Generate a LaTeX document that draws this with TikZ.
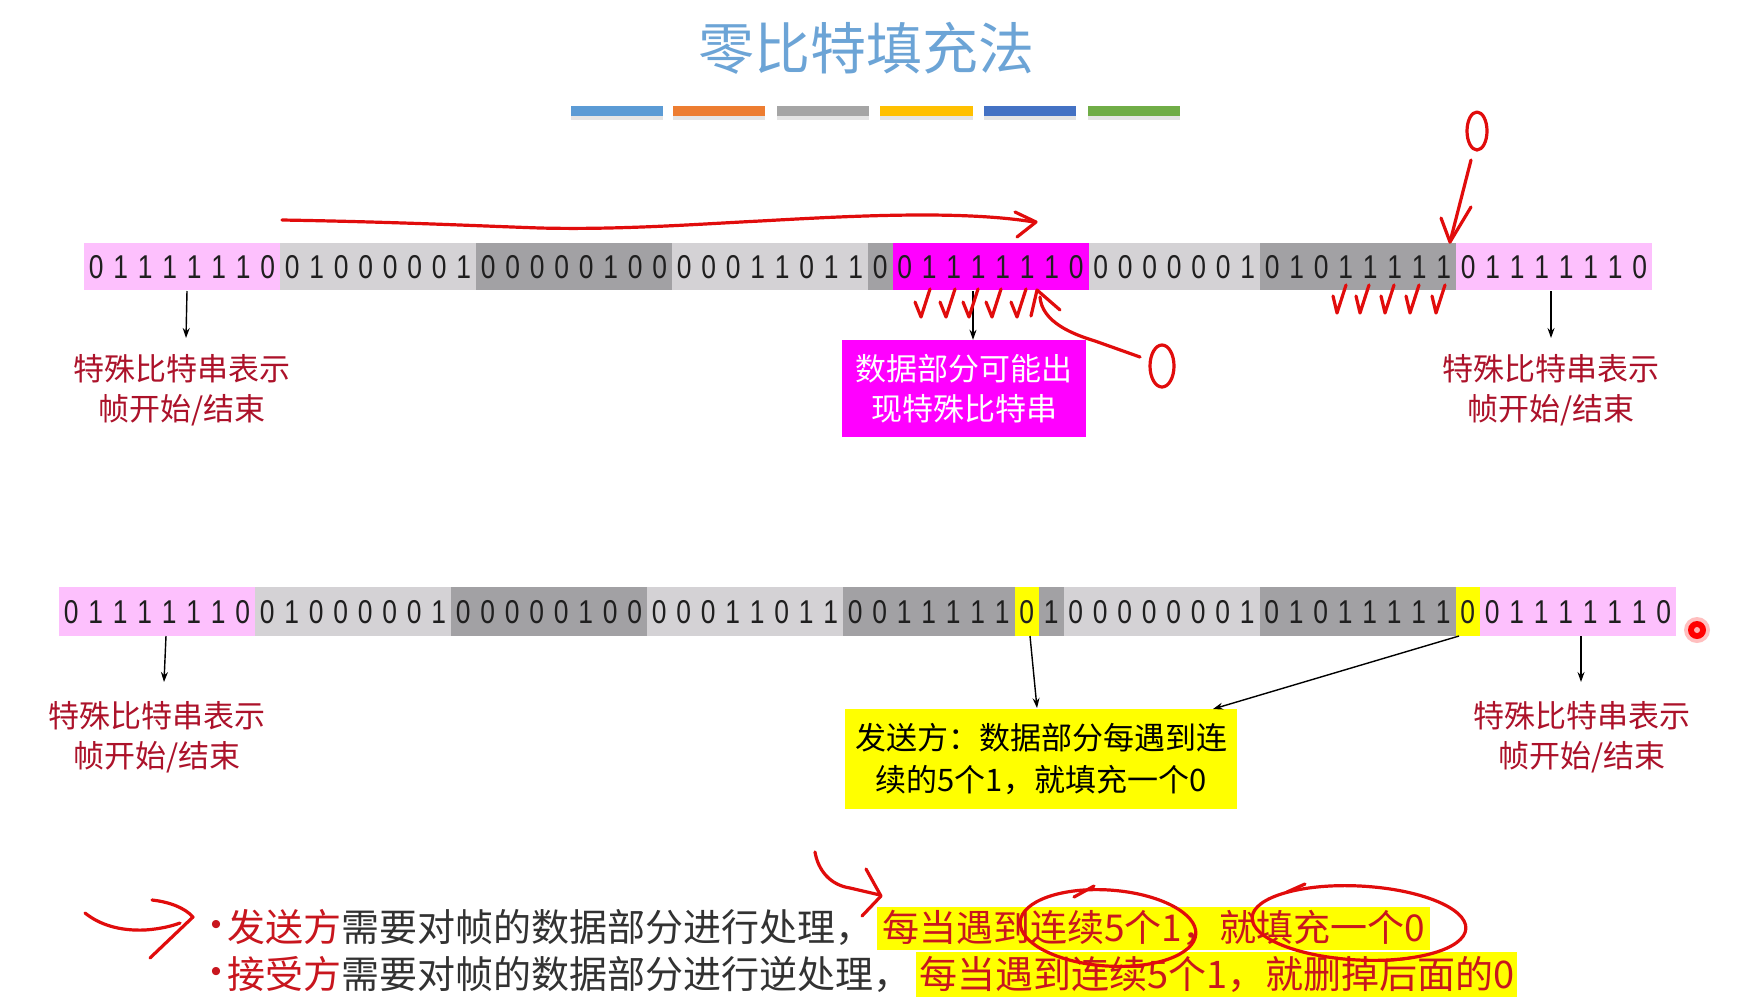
\documentclass[tikz,border=0pt]{standalone}
\usepackage{fontspec}
\usepackage{graphicx}
\setmainfont{Liberation Sans}
\newfontfamily\cjk{Noto Sans CJK SC}
\usetikzlibrary{arrows.meta}
\definecolor{pinkc}{RGB}{253,192,253}
\definecolor{lightg}{RGB}{212,210,213}
\definecolor{darkg}{RGB}{162,161,164}
\definecolor{magc}{RGB}{255,0,255}
\definecolor{yelc}{RGB}{255,255,0}
\definecolor{lblred}{RGB}{172,18,42}
\definecolor{hred}{RGB}{225,12,12}
\definecolor{titleblue}{RGB}{108,164,214}
\definecolor{txtred}{RGB}{200,22,30}
\definecolor{txtdark}{RGB}{50,50,50}
\definecolor{cb1}{RGB}{91,155,213}
\definecolor{cb2}{RGB}{237,125,49}
\definecolor{cb3}{RGB}{165,165,165}
\definecolor{cb4}{RGB}{255,192,0}
\definecolor{cb5}{RGB}{68,114,196}
\definecolor{cb6}{RGB}{112,173,71}
\tikzset{
  bit/.style={font=\fontsize{33}{33}\selectfont, text=black!88, inner sep=0pt, anchor=center},
  lbl/.style={font=\cjk\fontsize{31}{40}\selectfont, text=lblred, align=center, inner sep=0pt},
  boxtxt/.style={font=\cjk\fontsize{31}{40}\selectfont, align=center, inner sep=0pt},
  harr/.style={-{Stealth[length=10pt,width=7pt]}, line width=1.4pt, black},
  hand/.style={draw=hred, line width=3.2pt, line cap=round, line join=round},
  btxt/.style={font=\cjk\fontsize{38}{44}\selectfont, text=txtdark, inner sep=0pt},
  hlbox/.style={fill=yelc, text=txtred, inner xsep=3pt, inner ysep=3.5pt},
}
\begin{document}
\begin{tikzpicture}[x=1pt,y=-1pt]
\useasboundingbox (0,0) rectangle (1739,997);
\fill[white] (0,0) rectangle (1739,997);

% title
\node[font=\cjk\fontsize{56}{60}\selectfont, text=titleblue, inner sep=0pt] (title) at (866,48) {零比特填充法};
% colour bars
\foreach \a/\b/\c in {571/663/cb1,673/765/cb2,777/869/cb3,880/973/cb4,984/1076/cb5,1088/1180/cb6}{
  \fill[black!10] (\a,116) rectangle (\b,120);
  \fill[\c] (\a,106) rectangle (\b,116);
}

% ---------------- top bit string ----------------
\fill[pinkc] (84,243) rectangle (280,290);
\fill[lightg] (280,243) rectangle (476,290);
\fill[darkg] (476,243) rectangle (672,290);
\fill[lightg] (672,243) rectangle (868,290);
\fill[darkg] (868,243) rectangle (892.5,290);
\fill[magc] (892.5,243) rectangle (1088.5,290);
\fill[lightg] (1088.5,243) rectangle (1260,290);
\fill[darkg] (1260,243) rectangle (1456,290);
\fill[pinkc] (1456,243) rectangle (1652,290);
\foreach \b [count=\i from 0] in {0,1,1,1,1,1,1,0,0,1,0,0,0,0,0,1,0,0,0,0,0,1,0,0,0,0,0,1,1,0,1,1,0,0,1,1,1,1,1,1,0,0,0,0,0,0,0,1,0,1,0,1,1,1,1,1,0,1,1,1,1,1,1,0}
  \node[bit] (t\i) at ({84+24.5*\i+12.25},267) {\scalebox{0.8}[1]{\b}};

% ---------------- bottom bit string ----------------
\fill[pinkc] (59,587) rectangle (255,636);
\fill[lightg] (255,587) rectangle (451,636);
\fill[darkg] (451,587) rectangle (647,636);
\fill[lightg] (647,587) rectangle (843,636);
\fill[darkg] (843,587) rectangle (1014.5,636);
\fill[yelc] (1014.5,587) rectangle (1039,636);
\fill[darkg] (1039,587) rectangle (1063.5,636);
\fill[lightg] (1063.5,587) rectangle (1259.5,636);
\fill[darkg] (1259.5,587) rectangle (1455.5,636);
\fill[yelc] (1455.5,587) rectangle (1480,636);
\fill[pinkc] (1480,587) rectangle (1676,636);
\foreach \b [count=\i from 0] in {0,1,1,1,1,1,1,0,0,1,0,0,0,0,0,1,0,0,0,0,0,1,0,0,0,0,0,1,1,0,1,1,0,0,1,1,1,1,1,0,1,0,0,0,0,0,0,0,1,0,1,0,1,1,1,1,1,0,0,1,1,1,1,1,1,0}
  \node[bit] (b\i) at ({59+24.5*\i+12.25},612) {\scalebox{0.8}[1]{\b}};

% ---------------- labels and boxes ----------------
\node[lbl] (tl) at (182,390) {特殊比特串表示\\帧开始/结束};
\node[lbl] (tr) at (1551,390) {特殊比特串表示\\帧开始/结束};
\node[lbl] (bl) at (157,737) {特殊比特串表示\\帧开始/结束};
\node[lbl] (br) at (1582,737) {特殊比特串表示\\帧开始/结束};
\node[boxtxt, fill=magc, text=white, minimum width=244pt, minimum height=97pt] (mbox) at (964,388.5) {数据部分可能出\\现特殊比特串};
\node[boxtxt, fill=yelc, text=black, minimum width=392pt, minimum height=100pt, font=\cjk\fontsize{31}{42}\selectfont] (ybox) at (1041,759) {发送方：数据部分每遇到连\\续的5个1，就填充一个0};

% ---------------- arrows ----------------
\coordinate (tlA) at (187,291); \coordinate (tlB) at (186,338);
\coordinate (tmA) at (973,291);
\coordinate (trA) at (1551,291); \coordinate (trB) at (1551,338);
\coordinate (blA) at (166,636); \coordinate (blB) at (164,682);
\coordinate (y1A) at (1030,636); \coordinate (y1B) at (1037,708);
\coordinate (y2A) at (1459,636); \coordinate (y2B) at (1213,709);
\coordinate (brA) at (1581,636); \coordinate (brB) at (1581,682);
\draw[harr] (tlA) -- (tlB);
\draw[harr] (tmA) -- (tmA |- mbox.north);
\draw[harr] (trA) -- (trB);
\draw[harr] (blA) -- (blB);
\draw[harr] (y1A) -- (y1B);
\draw[harr] (y2A) -- (y2B);
\draw[harr] (brA) -- (brB);

% ---------------- bottom text ----------------
\node[font=\fontsize{30}{30}\selectfont, text=txtred, inner sep=0pt] (d1) at (216,927) {•};
\node[btxt, text=txtred, anchor=base west] (s1) at (227,941) {发送方};
\node[btxt, anchor=base west] (s1b) at (s1.base east) {需要对帧的数据部分进行处理，};
\node[btxt, hlbox, anchor=base west, inner xsep=5pt, font=\cjk\fontsize{37}{40}\selectfont, text height=31pt, text depth=5pt] (h1) at ([xshift=3pt]s1b.base east) {每当遇到连续5个1，就填充一个0};
\node[font=\fontsize{30}{30}\selectfont, text=txtred, inner sep=0pt] (d2) at (216,974) {•};
\node[btxt, text=txtred, anchor=base west] (s2) at (227,988) {接受方};
\node[btxt, anchor=base west] (s2b) at (s2.base east) {需要对帧的数据部分进行逆处理，};
\node[btxt, hlbox, anchor=base west, text height=33pt, text depth=5pt] (h2) at ([xshift=4pt]s2b.base east) {每当遇到连续5个1，就删掉后面的0};

% ---------------- red hand annotations ----------------
% long arrow above top string
\draw[hand] (282,220) .. controls (400,222) and (480,226) .. (540,228)
  .. controls (620,230) and (700,224) .. (760,221)
  .. controls (850,216) and (960,210) .. (1034,222);
\draw[hand] (1015,212) -- (1036,222) -- (1017,237);
% ticks under magenta
\foreach \x in {922,947,970,993,1018}
  \draw[hand] ({\x-7},302) -- ({\x-1},317) -- ({\x+8},289);
% caret and line to the handwritten 0
\draw[hand] (1031,316) -- (1037,290) -- (1060,310);
\draw[hand] (1040,297) .. controls (1042,322) and (1072,334) .. (1095,341) -- (1140,357);
\node[inner sep=0pt] (hz1) at (1162,366) {};
\draw[hand] (hz1) ellipse [x radius=12pt, y radius=21pt];
% right handwritten 0 and arrow
\node[inner sep=0pt] (hz2) at (1477,131) {};
\draw[hand] (hz2) ellipse [x radius=10pt, y radius=19pt];
\draw[hand] (1471,160) -- (1450,242);
\draw[hand] (1441,218) -- (1450,242) -- (1471,207);
\foreach \x in {1340,1363,1388,1413,1439}
  \draw[hand] ({\x-7},296) -- ({\x-3},313) -- ({\x+6},285);
% bottom left scribble arrow
\draw[hand] (85,913) .. controls (100,925) and (120,931) .. (145,930) .. controls (160,929) and (172,926) .. (180,923);
\draw[hand] (152,900) .. controls (170,902) and (185,908) .. (193,917) -- (150,958);
% arrow pointing to highlight
\draw[hand] (815,852) .. controls (818,870) and (830,885) .. (850,888) -- (880,895);
\draw[hand] (866,869) -- (881,896) -- (862,916);
% ellipses round the highlighted words
\draw[hand, rotate around={-4:(1108,928)}] (1108,928) ellipse [x radius=88pt, y radius=38pt];
\draw[hand] (1074,897) -- (1094,886);
\draw[hand, rotate around={-3:(1359,923)}] (1359,923) ellipse [x radius=107pt, y radius=37pt];
\draw[hand] (1287,892) -- (1305,884);

% laser pointer dot
\node[circle, fill=red!25, minimum size=26pt, inner sep=0pt] (dot) at (1697,630) {};
\fill[red] (dot) circle (9pt);
\fill[red!30!white] (dot) circle (3pt);
\end{tikzpicture}
\end{document}
